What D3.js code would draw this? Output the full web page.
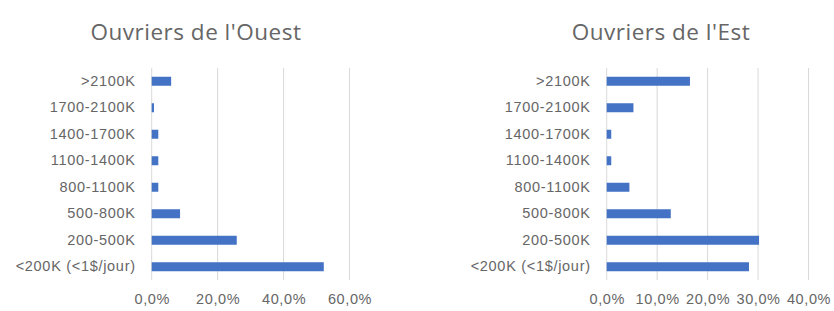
<!DOCTYPE html>
<html>
<head>
<meta charset="utf-8">
<script src="https://cdn.jsdelivr.net/npm/d3@7"></script>
<style>
  body { margin: 0; background: #fff; }
  svg { display: block; font-family: "Open Sans", "Liberation Sans", Arial, sans-serif; }
  .tick line { display: none; }
  .domain { display: none; }
</style>
</head>
<body>
<svg width="834" height="311"></svg>
<script>
// categories, bottom to top as drawn in the chart
const categories = ['<200K (<1$/jour)', '200-500K', '500-800K', '800-1100K',
  '1100-1400K', '1400-1700K', '1700-2100K', '>2100K'];

// share of workers per income band (%)
const ouestValues = [52.2, 25.8, 8.6, 2.0, 2.0, 2.0, 0.7, 5.9];
const estValues = [28.2, 30.2, 12.7, 4.5, 0.9, 0.9, 5.3, 16.5];

const ouestTicks = [0, 20, 40, 60];
const estTicks = [0, 10, 20, 30, 40];

const svg = d3.select('svg');
const barColor = '#4472C4';
const textColor = '#666666';
const gridColor = '#d9d9d9';

// y bands shared by both panels (top category first)
const y = d3.scaleBand()
  .domain(categories.slice().reverse())
  .range([68, 280])
  .paddingInner(0.66)
  .paddingOuter(0.33);

function panel(title, values, ticks, x0, x1, titleX) {
  const x = d3.scaleLinear()
    .domain([0, ticks[ticks.length - 1]])
    .range([x0, x1]);

  const g = svg.append('g');

  // gridlines
  g.selectAll('line.grid')
    .data(ticks)
    .enter()
    .append('line')
    .attr('class', 'grid')
    .attr('x1', d => x(d))
    .attr('x2', d => x(d))
    .attr('y1', 68)
    .attr('y2', 280)
    .attr('stroke', gridColor)
    .attr('stroke-width', 1);

  // bars
  g.selectAll('rect')
    .data(categories.map((c, i) => ({ cat: c, v: values[i] })))
    .enter()
    .append('rect')
    .attr('x', x(0))
    .attr('y', d => y(d.cat))
    .attr('width', d => x(d.v) - x(0))
    .attr('height', y.bandwidth())
    .attr('fill', barColor);

  // category labels
  const ya = g.append('g')
    .attr('transform', 'translate(' + (x0 - 4) + ',0)')
    .call(d3.axisLeft(y).tickSize(0).tickPadding(12));
  ya.selectAll('text')
    .attr('fill', textColor)
    .style('font-size', '14.5px')
    .style('letter-spacing', '0.7px');

  // value axis
  const xa = g.append('g')
    .attr('transform', 'translate(0,290)')
    .call(d3.axisBottom(x)
      .tickValues(ticks)
      .tickSize(0)
      .tickPadding(4)
      .tickFormat(d => d3.format('.1f')(d).replace('.', ',') + '%'));
  xa.selectAll('text')
    .attr('fill', textColor)
    .style('font-size', '14.5px')
    .style('letter-spacing', '0.6px');

  // title
  svg.append('text')
    .attr('x', titleX)
    .attr('y', 40)
    .attr('text-anchor', 'middle')
    .attr('fill', textColor)
    .style('font-size', '22.5px')
    .style('letter-spacing', '0.5px')
    .text(title);
}

panel("Ouvriers de l'Ouest", ouestValues, ouestTicks, 151.7, 349.5, 196);
panel("Ouvriers de l'Est", estValues, estTicks, 606.7, 808.5, 661);
</script>
</body>
</html>
